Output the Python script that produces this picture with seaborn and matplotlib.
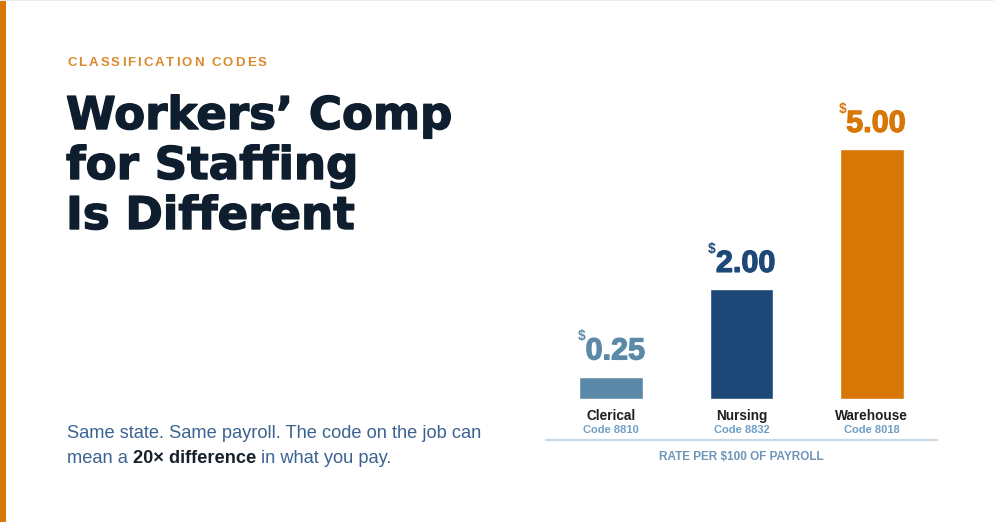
import matplotlib
matplotlib.use("Agg")
import matplotlib.pyplot as plt
import matplotlib.patheffects as pe
import seaborn as sns

# data
categories = ["Clerical", "Nursing", "Warehouse"]
class_codes = ["Code 8810", "Code 8832", "Code 8018"]
rates = [0.25, 2.00, 5.00]
bar_heights = [9, 44, 100]  # bar height as drawn, % of tallest bar
bar_colors = ["#5b8aa8", "#1d4877", "#d97706"]

eyebrow = "CLASSIFICATION CODES"
title_lines = ["Workers\u2019 Comp", "for Staffing", "Is Different"]
axis_caption = "RATE PER $100 OF PAYROLL"

W, H = 995, 522
NAVY = "#0f1e2e"
BODY = "#3b6391"

sns.set_theme(style="white")
plt.rcParams["font.family"] = ["Liberation Sans", "DejaVu Sans"]
plt.rcParams["text.parse_math"] = False


def fx(px):
    return px / W


def fy(py):
    return 1 - py / H


fig = plt.figure(figsize=(W / 100, H / 100), dpi=100)
fig.patch.set_facecolor("white")
renderer = fig.canvas.get_renderer()

# orange stripe on the left and faint top border
fig.add_artist(plt.Rectangle((0, 0), fx(6), 1, transform=fig.transFigure,
                             color="#d97706", lw=0))
fig.add_artist(plt.Rectangle((0, fy(1.2)), 1, 1.2 / H, transform=fig.transFigure,
                             color="#ececec", lw=0))

# eyebrow with letter spacing
x = 67
for ch in eyebrow:
    if ch == " ":
        x += 9.5 * 1.389 * 0.278 + 2.0
        continue
    t = fig.text(fx(x), fy(66), ch, fontsize=9.5, fontweight="bold",
                 color="#d98a2b", va="baseline", ha="left")
    x += t.get_window_extent(renderer).width + 2.0

# title
for line, base in zip(title_lines, [129, 179, 229]):
    fig.text(fx(66), fy(base), line, fontsize=32.5, fontweight="bold", color=NAVY,
             family="DejaVu Sans", va="baseline", ha="left",
             path_effects=[pe.withStroke(linewidth=1.0, foreground=NAVY)])


def text_run(x, base, pieces, size):
    for txt, weight, col in pieces:
        t = fig.text(fx(x), fy(base), txt, fontsize=size, fontweight=weight,
                     color=col, va="baseline", ha="left")
        x += t.get_window_extent(renderer).width
    return x


BODY_SIZE = 13.15
text_run(67, 438, [("Same state. Same payroll. The code on the job can", "normal", BODY)], BODY_SIZE)
x = text_run(67, 463, [("mean a", "normal", BODY)], BODY_SIZE)
x = text_run(x + 5.0, 463, [("20\u00d7 difference", "bold", "#17212c")], BODY_SIZE)
text_run(x + 5.0, 463, [("in what you pay.", "normal", BODY)], BODY_SIZE)

# bar chart
ax = fig.add_axes([fx(546), fy(399), (937 - 546) / W, 250 / H])
sns.barplot(x=categories, y=bar_heights, hue=categories, palette=bar_colors,
            saturation=1, width=0.49, legend=False, ax=ax)
ax.set_xlim(-0.5, 2.5)
ax.set_ylim(0, 100)
ax.set_axis_off()

for i, (cat, code, rate, h, col) in enumerate(zip(categories, class_codes, rates,
                                                   bar_heights, bar_colors)):
    num = ax.annotate(f"{rate:.2f}", xy=(i, h), xytext=(3, 12.3),
                      textcoords="offset points", ha="center", va="baseline",
                      fontsize=22, fontweight="bold", color=col,
                      annotation_clip=False,
                      path_effects=[pe.withStroke(linewidth=0.9, foreground=col)])
    ax.annotate("$", xy=(0, 1), xycoords=num, xytext=(0, 5),
                textcoords="offset points", ha="right", va="top",
                fontsize=10, fontweight="bold", color=col, annotation_clip=False)
    ax.annotate(cat, xy=(i, 0), xytext=(0, -12.3), textcoords="offset points",
                ha="center", va="center", fontsize=9.8, fontweight="bold",
                color="#1f1f1f", annotation_clip=False)
    ax.annotate(code, xy=(i, 0), xytext=(0, -22.5), textcoords="offset points",
                ha="center", va="center", fontsize=8, fontweight="bold",
                color="#6f9fc6", annotation_clip=False)

fig.add_artist(plt.Line2D([fx(546), fx(937)], [fy(440), fy(440)],
                          transform=fig.transFigure, color="#c9d9e5", lw=1.6))
fig.text(fx(741.5), fy(457), axis_caption, fontsize=8.5, fontweight="bold",
         color="#6f95b8", ha="center", va="center")

fig.savefig("out.png", dpi=100, facecolor="white")
